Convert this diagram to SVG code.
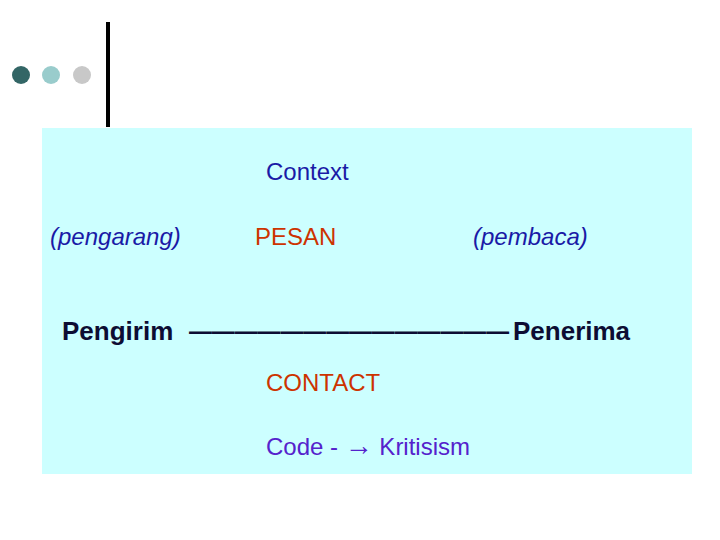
<svg xmlns="http://www.w3.org/2000/svg" width="720" height="540" viewBox="0 0 720 540">
<style>
text{font-family:"Liberation Sans",Arial,sans-serif;font-size:24px}
.b{fill:#1a1aa6}
.r{fill:#cc3300}
.k{font-weight:bold;fill:#0d0d33;font-size:26px}
</style>
<rect width="720" height="540" fill="#fff"/>
<g id="decor">
<circle cx="21" cy="75" r="9" fill="#336666"/>
<circle cx="51" cy="75" r="9" fill="#99cccc"/>
<circle cx="82" cy="75" r="9" fill="#c8c8c8"/>
<rect x="106" y="22" width="4" height="105" fill="#000"/>
</g>
<rect id="panel" x="42" y="128" width="650" height="346" fill="#ccffff"/>
<g id="context"><text x="266" y="180" class="b">Context</text></g>
<g id="pengarang"><text x="50" y="245" class="b" font-style="italic">(pengarang)</text></g>
<g id="pesan"><text x="255" y="245" class="r">PESAN</text></g>
<g id="pembaca"><text x="473" y="245" class="b" font-style="italic">(pembaca)</text></g>
<g id="line">
<text x="62" y="340" class="k">Pengirim</text>
<text x="189" y="340" class="k" textLength="320" lengthAdjust="spacingAndGlyphs">——————————————</text>
<text x="513" y="340" class="k">Penerima</text>
</g>
<g id="contact"><text x="266" y="391" class="r">CONTACT</text></g>
<g id="code"><text x="266" y="455" fill="#5522cc">Code  - <tspan font-size="28">→</tspan> Kritisism</text></g>
</svg>
